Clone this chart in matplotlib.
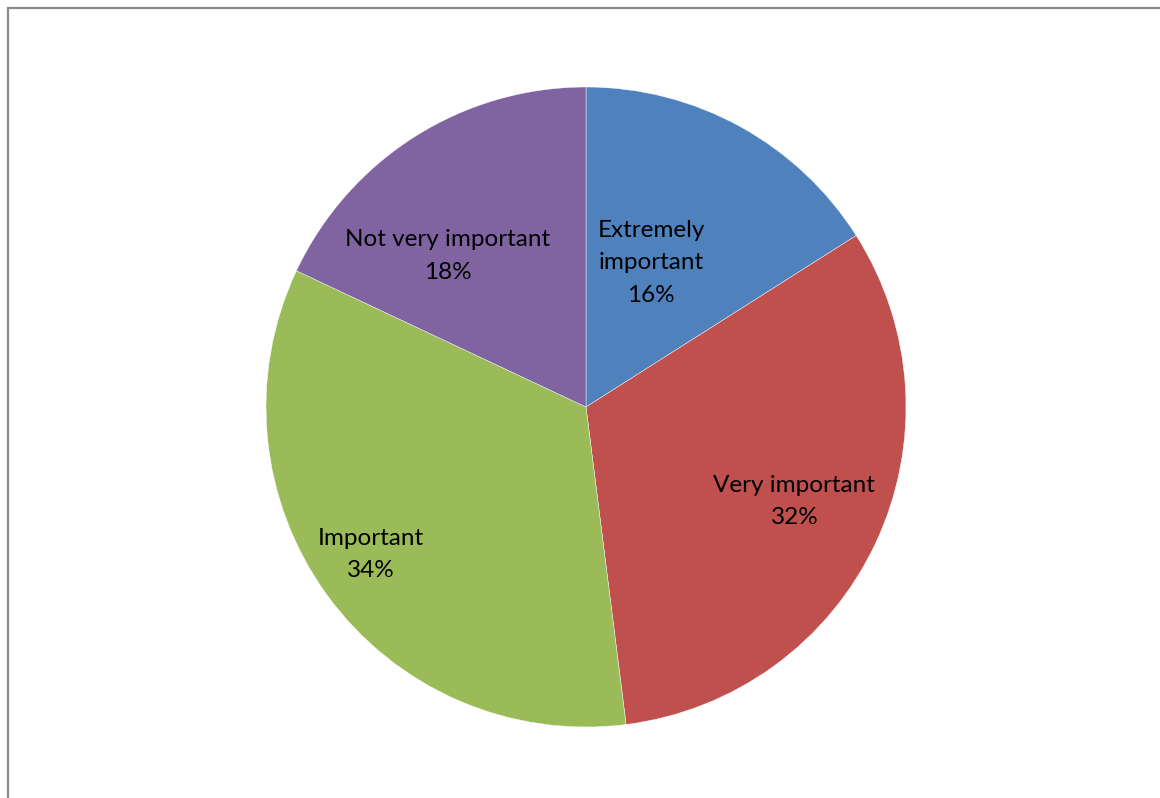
import numpy as np
import matplotlib.pyplot as plt
from matplotlib.patches import Rectangle

categories = ['Extremely\nimportant', 'Very important', 'Important', 'Not very important']
shares = [16, 32, 34, 18]
colors = ['#4F81BD', '#C0504D', '#9BBB59', '#8064A2']

# label placement: distance from centre (fraction of radius) and angular nudge in degrees
label_r = [0.495, 0.715, 0.815, 0.64]
label_shift = [4.5, 0.8, -1.5, 10]

W, H = 1160, 798
fig = plt.figure(figsize=(W / 100, H / 100), dpi=100)
fig.patch.set_facecolor('white')

cx, cy, rad = 586, 407, 320
ax = fig.add_axes([(cx - rad) / W, (H - cy - rad) / H, 2 * rad / W, 2 * rad / H])
wedges, _ = ax.pie(shares, colors=colors, startangle=90, counterclock=False,
                   radius=1.0, wedgeprops=dict(edgecolor='white', linewidth=0.3))
ax.set_xlim(-1, 1)
ax.set_ylim(-1, 1)
ax.set_aspect('equal')
ax.axis('off')

for w, name, val, r, sh in zip(wedges, categories, shares, label_r, label_shift):
    mid = np.deg2rad((w.theta1 + w.theta2) / 2 + sh)
    ax.text(r * np.cos(mid), r * np.sin(mid), f'{name}\n{val}%',
            ha='center', va='center', fontsize=17.5, family='Lato',
            linespacing=1.68, color='black')

# chart area frame (runs off the right and bottom edges)
fig.patches.append(Rectangle((7.5 / W, -0.1), 1.2, (H - 8.5) / H + 0.1,
                             transform=fig.transFigure, fill=False,
                             edgecolor='#8a8a8a', linewidth=1.6))

fig.savefig('out.png', dpi=100)
